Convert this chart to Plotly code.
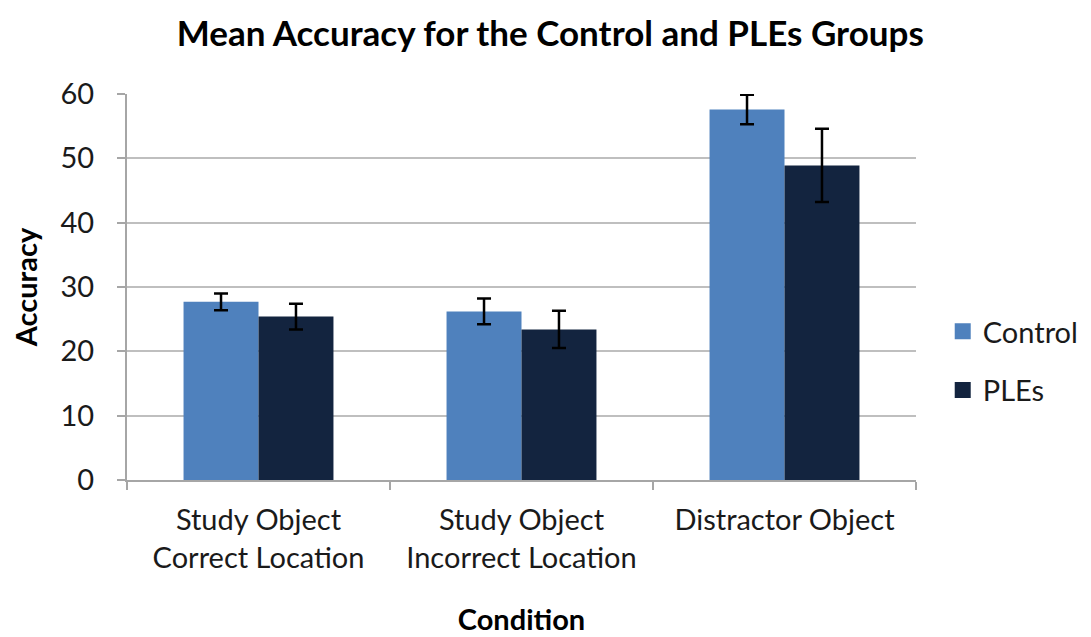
import plotly.graph_objects as go

categories = ["Study Object<br>Correct Location", "Study Object<br>Incorrect Location", "Distractor Object"]
series_names = ["Control", "PLEs"]
control_vals = [27.7, 26.2, 57.6]
control_err = [1.3, 2.0, 2.3]
ples_vals = [25.4, 23.4, 48.9]
ples_err = [2.0, 2.9, 5.7]
y_ticks = [0, 10, 20, 30, 40, 50, 60]

colors = ["#4F81BD", "#13243F"]
font_family = "Lato, Open Sans, sans-serif"
text_color = "#1a1a1a"

fig = go.Figure()
for name, vals, errs, col in zip(series_names, [control_vals, ples_vals], [control_err, ples_err], colors):
    fig.add_trace(go.Bar(
        x=categories, y=vals, name=name, showlegend=False,
        marker=dict(color=col, line=dict(width=0)),
        error_y=dict(type="data", array=errs, color="black", thickness=2.5, width=7),
    ))
for name, col in zip(series_names, colors):
    fig.add_trace(go.Scatter(
        x=[None], y=[None], mode="markers", name=name, legendgroup=name,
        marker=dict(symbol="square", size=17, color=col),
    ))

fig.update_layout(
    width=1091, height=637,
    paper_bgcolor="white", plot_bgcolor="white",
    margin=dict(l=119, r=183, t=86, b=165),
    barmode="group", bargap=0.43, bargroupgap=0,
    font=dict(family=font_family, size=29, color=text_color),
    title=dict(text="<b>Mean Accuracy for the Control and PLEs Groups</b>",
               x=0.497, xanchor="center", y=0.96, yanchor="middle",
               font=dict(size=35, color="black")),
    legend=dict(xref="container", yref="container", x=0.986, xanchor="right",
                y=0.446, yanchor="middle",
                font=dict(size=29, color=text_color), itemsizing="trace",
                tracegroupgap=18, traceorder="grouped", itemwidth=30),
    showlegend=True,
)
fig.update_yaxes(
    range=[0, 60], tickvals=y_ticks, showgrid=True, gridcolor="#BFBFBF", gridwidth=2,
    showline=True, linecolor="#A6A6A6", linewidth=2, ticks="outside", ticklen=8,
    tickcolor="#A6A6A6", tickwidth=2, ticklabelstandoff=17, automargin=False,
    title=dict(text="<b>Accuracy</b>", font=dict(size=29, color="black"), standoff=29),
    tickfont=dict(size=29), zeroline=False,
)
fig.update_xaxes(
    showline=True, linecolor="#A6A6A6", linewidth=2, ticks="outside", ticklen=8,
    tickcolor="#A6A6A6", tickwidth=2, tickson="boundaries", ticklabelstandoff=13,
    automargin=False,
    title=dict(text="<b>Condition</b>", font=dict(size=29, color="black"), standoff=37),
    tickfont=dict(size=29),
)

fig.write_html("out.html")
